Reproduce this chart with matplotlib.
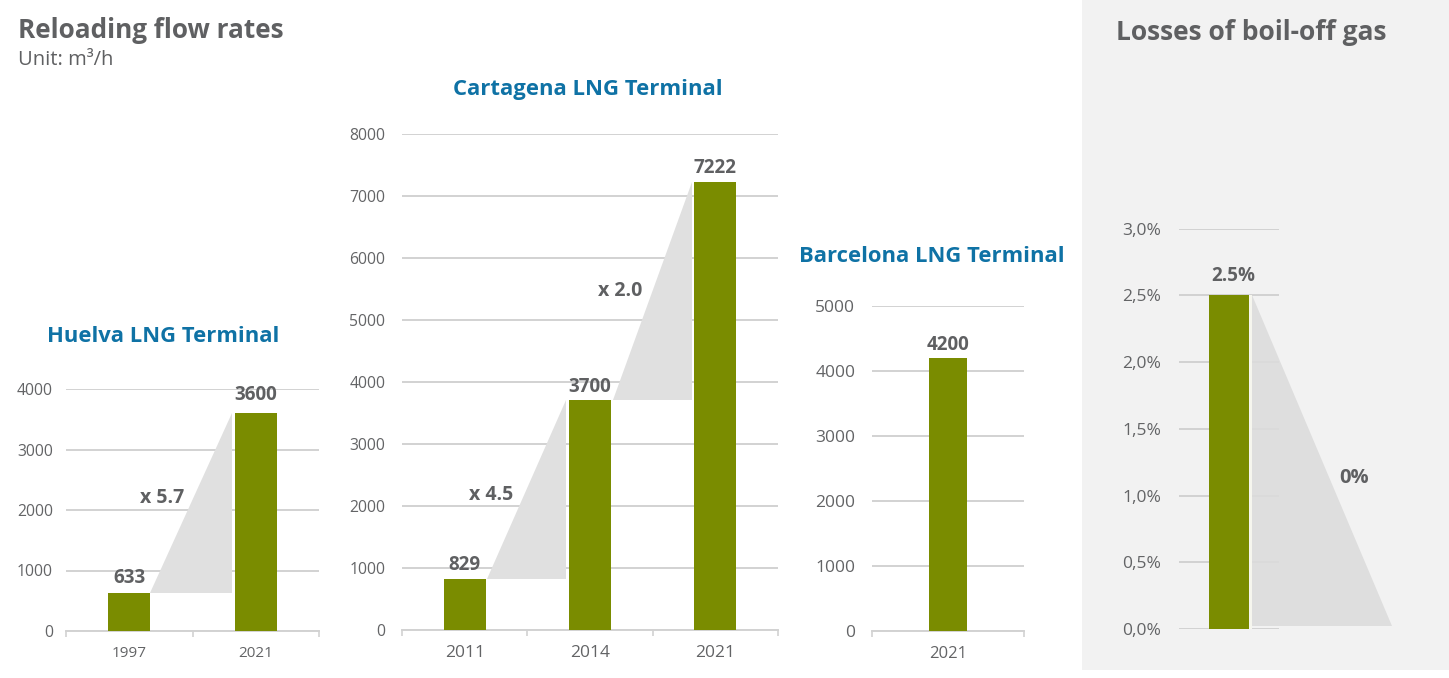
import matplotlib
matplotlib.use("Agg")
import matplotlib.pyplot as plt
from matplotlib.patches import Polygon, Rectangle

W, H = 1449, 678
GREEN = "#7a8c00"
BLUE = "#0f72a5"
DARK = "#5f6062"
TICK = "#636466"
GRID = "#d2d2d2"
WEDGE = "#e0e0e0"

huelva_years = ["1997", "2021"]
huelva_values = [633, 3600]
huelva_ticks = [0, 1000, 2000, 3000, 4000]
cartagena_years = ["2011", "2014", "2021"]
cartagena_values = [829, 3700, 7222]
cartagena_ticks = [0, 1000, 2000, 3000, 4000, 5000, 6000, 7000, 8000]
barcelona_years = ["2021"]
barcelona_values = [4200]
barcelona_ticks = [0, 1000, 2000, 3000, 4000, 5000]
boiloff_values = [2.5]
boiloff_ticks = [0, 0.5, 1.0, 1.5, 2.0, 2.5, 3.0]
boiloff_ticklabels = ["0,0%", "0,5%", "1,0%", "1,5%", "2,0%", "2,5%", "3,0%"]

plt.rcParams["font.family"] = ["Open Sans", "DejaVu Sans"]
fig = plt.figure(figsize=(W / 100, H / 100), dpi=100, facecolor="white")


def make_ax(x0, x1, ytop, ybottom, pad=12):
    ax = fig.add_axes([x0 / W, 1 - ybottom / H, (x1 - x0) / W, (ybottom - ytop) / H])
    ax.patch.set_alpha(0)
    for s in ["top", "right", "left"]:
        ax.spines[s].set_visible(False)
    ax.spines["bottom"].set_color(GRID)
    ax.spines["bottom"].set_linewidth(1.4)
    ax.set_axisbelow(True)
    ax.grid(axis="y", color=GRID, lw=1.4)
    ax.tick_params(axis="y", length=0, pad=pad, labelcolor=TICK)
    ax.tick_params(axis="x", length=4.5, width=1.2, color=GRID, labelcolor=TICK, pad=7)
    return ax


def draw(ax, labels, values, ticks, ylim, fs, xfs, vfs, barw, voff=2.5):
    n = len(labels)
    xs = list(range(n))
    ax.set_xlim(-0.5, n - 0.5)
    ax.set_ylim(*ylim)
    ax.set_yticks(ticks)
    ax.tick_params(axis="y", labelsize=fs)
    ax.bar(xs, values, width=barw, color=GREEN, zorder=3)
    ax.set_xticks([i - 0.5 for i in range(n + 1)], [""] * (n + 1))
    for i, lab in enumerate(labels):
        ax.annotate(lab, (i, 0), xytext=(0, -11), textcoords="offset points",
                    ha="center", va="top", fontsize=xfs, color=TICK,
                    annotation_clip=False)
    offs = voff if isinstance(voff, (list, tuple)) else [voff] * n
    for i, v in enumerate(values):
        ax.annotate(str(v), (i, v), xytext=(0, offs[i]), textcoords="offset points",
                    ha="center", va="bottom", fontsize=vfs, color=DARK,
                    fontweight="bold", zorder=5)
    return xs


def wedge(ax, p0, p1, p2):
    ax.add_patch(Polygon([p0, p1, p2], closed=True, fc=WEDGE, ec="none", zorder=2.5))


fig.add_artist(Rectangle((1082 / W, 1 - 670 / H), (W - 1082) / W, 670 / H,
                         transform=fig.transFigure, fc="#f2f2f2", ec="none", zorder=-5))

# Huelva
ax1 = make_ax(66, 319, 389, 631, pad=9.5)
draw(ax1, huelva_years, huelva_values, huelva_ticks, (0, 4000), 11.3, 11, 13.5, 0.335, voff=[3.2, 6.2])
wedge(ax1, (0.165, huelva_values[0]), (0.81, huelva_values[0]), (0.81, huelva_values[1]))
ax1.text(0.26, 2200, "x 5.7", ha="center", va="center", fontsize=14, color=DARK,
         fontweight="bold", zorder=5)

# Cartagena
ax2 = make_ax(402, 778, 133.5, 630)
draw(ax2, cartagena_years, cartagena_values, cartagena_ticks, (0, 8000), 11.3, 12.5, 13.5, 0.335)
wedge(ax2, (0.18, cartagena_values[0]), (0.81, cartagena_values[0]), (0.81, cartagena_values[1]))
wedge(ax2, (1.18, cartagena_values[1]), (1.81, cartagena_values[1]), (1.81, cartagena_values[2]))
ax2.text(0.21, 2170, "x 4.5", ha="center", va="center", fontsize=14, color=DARK,
         fontweight="bold", zorder=5)
ax2.text(1.24, 5470, "x 2.0", ha="center", va="center", fontsize=14, color=DARK,
         fontweight="bold", zorder=5)

# Barcelona
ax3 = make_ax(872, 1024, 306, 631)
draw(ax3, barcelona_years, barcelona_values, barcelona_ticks, (0, 5000), 12.5, 12, 13.5, 0.25)

# Boil-off
ax4 = make_ax(1179, 1279, 228.5, 629, pad=13)
ax4.set_xlim(-0.5, 0.5)
ax4.set_ylim(0, 3)
ax4.set_yticks(boiloff_ticks, boiloff_ticklabels)
ax4.tick_params(axis="y", labelsize=12.5)
ax4.spines["bottom"].set_visible(False)
ax4.set_xticks([])
ax4.bar([0], boiloff_values, width=0.40, color=GREEN, zorder=3)
ax4.annotate("2.5%", (0, boiloff_values[0]), xytext=(3, 7), textcoords="offset points",
             ha="center", va="bottom", fontsize=13.5, color=DARK, fontweight="bold")
ax4.add_patch(Polygon([(0.225, 2.5), (0.225, 0.02), (1.63, 0.02)], closed=True, fc="#dcdcdc",
                      alpha=0.9, ec="none", zorder=2.5, clip_on=False))
ax4.add_patch(Rectangle((0.2, 0), 0.025, 2.5, fc="#f6f6ee", ec="none", zorder=2.6))
ax4.text(1.25, 1.13, "0%", ha="center", va="center", fontsize=14.5, color=DARK,
         fontweight="bold", clip_on=False)


def ftext(x, y, s, **kw):
    fig.text(x / W, 1 - y / H, s, va="center", **kw)


ftext(18, 30, "Reloading flow rates", fontsize=18.8, fontweight="bold", color=DARK)
ftext(18, 60, "Unit: m³/h", fontsize=14.5, color=DARK)
ftext(453, 89, "Cartagena LNG Terminal", fontsize=15.9, fontweight="bold", color=BLUE)
ftext(47, 336, "Huelva LNG Terminal", fontsize=15.8, fontweight="bold", color=BLUE)
ftext(799, 256, "Barcelona LNG Terminal", fontsize=15.85, fontweight="bold", color=BLUE)
ftext(1116, 32, "Losses of boil-off gas", fontsize=19, fontweight="bold", color=DARK)

fig.savefig("out.png", dpi=100, facecolor="white")
